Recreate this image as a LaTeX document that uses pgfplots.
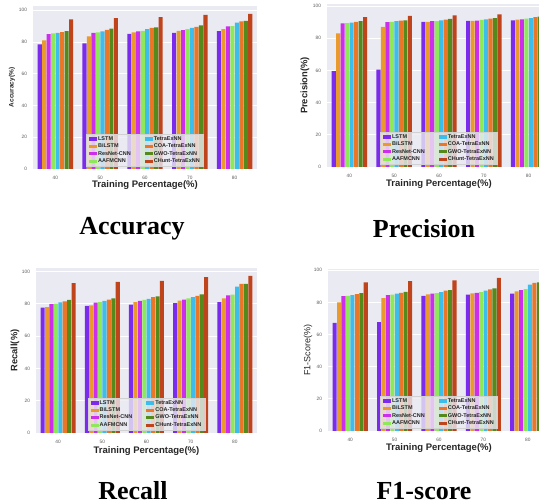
\documentclass[border=0pt]{standalone}
\usepackage{fontspec}
\setmainfont{Liberation Sans}
\newfontfamily\capfont{Liberation Serif}
\usepackage{pgfplots}
\usepackage{pgfplotstable}
\pgfplotsset{compat=1.18}

\definecolor{bgc}{HTML}{EAEAF2}
\definecolor{c1}{HTML}{7B2BEB}
\definecolor{c2}{HTML}{EA9A2C}
\definecolor{c3}{HTML}{CC2EEB}
\definecolor{c4}{HTML}{8FE85A}
\definecolor{c5}{HTML}{3DBDEB}
\definecolor{c6}{HTML}{EB7628}
\definecolor{c7}{HTML}{55891C}
\definecolor{c8}{HTML}{C0441B}
\definecolor{tickc}{HTML}{5A5A5A}
\definecolor{labc}{HTML}{262626}

\pgfplotstableread{
x a b c d e f g h
0 78.4 80.9 84.9 85.3 85.7 86.2 86.8 94.1
1 79.0 83.4 85.7 86.0 86.6 87.6 88.3 95.0
2 85.1 86.0 86.6 87.0 88.0 88.9 89.1 95.6
3 85.7 87.0 87.4 88.0 88.9 89.5 90.4 97.0
4 86.8 88.0 89.7 89.9 92.2 92.9 93.3 97.7
}\accdata
\pgfplotstableread{
x a b c d e f g h
0 59.6 83.0 89.2 89.4 89.6 90.1 90.5 93.0
1 60.5 87.0 89.9 90.1 90.5 90.9 91.1 93.8
2 90.1 90.1 90.5 90.5 91.1 91.5 91.9 94.2
3 90.7 90.7 90.9 91.3 91.7 92.1 92.5 94.8
4 91.1 91.5 91.7 92.1 92.5 93.0 93.4 95.9
}\precdata
\pgfplotstableread{
x a b c d e f g h
0 77.7 77.9 79.9 80.1 80.9 81.6 82.4 92.8
1 78.7 79.1 80.7 81.1 81.8 82.6 83.4 93.6
2 79.5 81.1 81.8 82.4 83.0 84.2 84.6 94.3
3 80.5 82.0 82.6 83.4 84.2 85.0 85.9 96.5
4 81.1 83.4 85.2 85.7 90.6 92.4 92.4 97.3
}\recdata
\pgfplotstableread{
x a b c d e f g h
0 67.2 80.0 83.9 84.1 84.6 85.2 85.8 92.5
1 67.8 82.7 84.6 84.8 85.4 86.0 86.6 93.3
2 84.1 85.0 85.4 85.8 86.4 87.3 87.7 93.7
3 84.8 85.6 86.0 86.4 87.3 88.1 88.7 95.2
4 85.4 86.8 87.7 88.3 91.0 92.1 92.5 96.0
}\fonedata

\pgfplotsset{
  sw/.style={draw=none,fill=#1,legend image code/.code={\fill[fill=#1,fill opacity=1] (0pt,-1.6pt) rectangle (8pt,1.6pt);}},
  br/.style={ybar, bar width=0.092, draw=none, forget plot},
  sns/.style={
    scale only axis, anchor=south west,
    /pgf/number format/assume math mode=true,
    axis background/.style={fill=bgc},
    axis line style={draw=none},
    major tick length=0pt,
    ymin=0, xmin=-0.5, xmax=4.5,
    xtick={0,1,2,3,4}, xticklabels={40,50,60,70,80},
    ytick={0,20,40,60,80,100},
    ymajorgrids, grid style={white, line width=0.8pt},
    tick label style={font=\fontsize{4.8}{5}\selectfont, text=tickc},
    xticklabel style={yshift=-3.5pt},
    yticklabel style={xshift=-2.5pt},
    xlabel={Training Percentage(\%)},
    xlabel style={font=\fontsize{9.5}{10}\selectfont\bfseries, text=labc},
    ylabel style={text=labc},
    legend columns=2,
    legend cell align=left,
    legend style={at={(0.5,0.015)}, anchor=south, fill=bgc, fill opacity=0.8, draw opacity=1, text opacity=1,
      draw=black!18, font=\fontsize{5.5}{6}\selectfont\bfseries, text=labc,
      inner xsep=2.5pt, inner ysep=1.5pt, row sep=0pt,
      /tikz/every even column/.append style={column sep=13pt},
      nodes={inner sep=1pt}},
  },
}
\newcommand\bars[1]{%
  \addplot[br, fill=c1, bar shift=-0.35] table[x=x,y=a]{#1};
  \addplot[br, fill=c2, bar shift=-0.25] table[x=x,y=b]{#1};
  \addplot[br, fill=c3, bar shift=-0.15] table[x=x,y=c]{#1};
  \addplot[br, fill=c4, bar shift=-0.05] table[x=x,y=d]{#1};
  \addplot[br, fill=c5, bar shift=0.05] table[x=x,y=e]{#1};
  \addplot[br, fill=c6, bar shift=0.15] table[x=x,y=f]{#1};
  \addplot[br, fill=c7, bar shift=0.25] table[x=x,y=g]{#1};
  \addplot[br, fill=c8, bar shift=0.35] table[x=x,y=h]{#1};
  \addlegendimage{sw=c1}\addlegendentry{LSTM}
  \addlegendimage{sw=c5}\addlegendentry{TetraExNN}
  \addlegendimage{sw=c2}\addlegendentry{BiLSTM}
  \addlegendimage{sw=c6}\addlegendentry{COA-TetraExNN}
  \addlegendimage{sw=c3}\addlegendentry{ResNet-CNN}
  \addlegendimage{sw=c7}\addlegendentry{GWO-TetraExNN}
  \addlegendimage{sw=c4}\addlegendentry{AAFMCNN}
  \addlegendimage{sw=c8}\addlegendentry{CHunt-TetraExNN}
}

\begin{document}
\begin{tikzpicture}
\path[use as bounding box] (0pt,0pt) rectangle (539pt,504pt);
\clip (0pt,0pt) rectangle (539pt,504pt);

% Accuracy
\begin{axis}[sns, at={(33pt,335pt)}, width=224pt, height=163pt, ymax=102.6,
  ylabel={Accuracy(\%)},
  ylabel style={font=\fontsize{6.5}{7}\selectfont\bfseries, at={([xshift=-21pt]axis description cs:0,0.5)}, anchor=center},
  xlabel style={at={([yshift=-16pt]axis description cs:0.5,0)}, anchor=center}]
\bars{\accdata}
\end{axis}

% Precision
\begin{axis}[sns, at={(327pt,337pt)}, width=224pt, height=163pt, ymax=101.2,
  ylabel={Precision(\%)},
  ylabel style={font=\fontsize{9.4}{10}\selectfont\bfseries, at={([xshift=-22pt]axis description cs:0,0.5)}, anchor=center},
  xlabel style={at={([yshift=-17pt]axis description cs:0.5,0)}, anchor=center}]
\bars{\precdata}
\end{axis}

% Recall
\begin{axis}[sns, at={(36pt,71pt)}, width=221pt, height=165pt, ymax=102.2,
  ylabel={Recall(\%)},
  ylabel style={font=\fontsize{9.3}{10}\selectfont\bfseries, at={([xshift=-21pt]axis description cs:0,0.5)}, anchor=center},
  xlabel style={at={([yshift=-18pt]axis description cs:0.5,0)}, anchor=center}]
\bars{\recdata}
\end{axis}

% F1-score
\begin{axis}[sns, at={(328pt,73pt)}, width=222pt, height=162pt, ymax=100.8,
  ylabel={F1-Score(\%)},
  ylabel style={font=\fontsize{9}{10}\selectfont, at={([xshift=-20pt]axis description cs:0,0.5)}, anchor=center},
  xlabel style={at={([yshift=-17pt]axis description cs:0.5,0)}, anchor=center}]
\bars{\fonedata}
\end{axis}

\node[font=\capfont\bfseries\fontsize{26}{28}\selectfont, text=black] at (132pt,275pt) {Accuracy};
\node[font=\capfont\bfseries\fontsize{26}{28}\selectfont, text=black] at (424pt,275pt) {Precision};
\node[font=\capfont\bfseries\fontsize{26}{28}\selectfont, text=black] at (133pt,13pt) {Recall};
\node[font=\capfont\bfseries\fontsize{26}{28}\selectfont, text=black] at (424pt,13pt) {F1-score};
\end{tikzpicture}
\end{document}
